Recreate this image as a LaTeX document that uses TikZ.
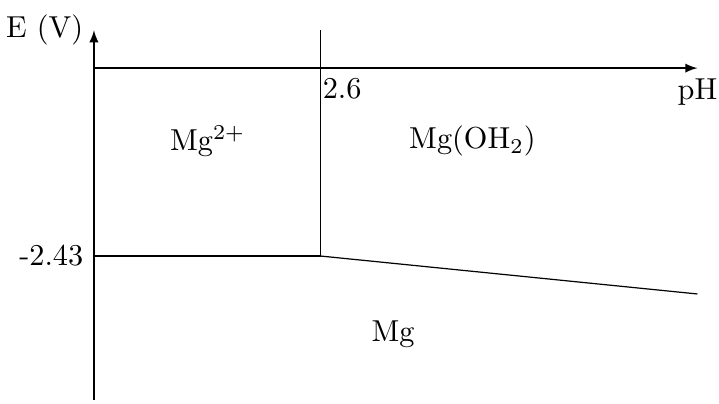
\documentclass[tikz,border=0pt]{standalone}
\usepackage{amsmath,amssymb}
\usepackage{tikz}

\begin{document}
\begin{tikzpicture}[
      axis/.style={-latex}
    ]
    \useasboundingbox (-1.09,0.79) rectangle (7.25,-3.89);
    \coordinate (O) at (0,0);
    \coordinate (ytop) at (0,0.44);
    \coordinate (ybot) at (0,-3.85);
    \coordinate (xend) at (7,0);
    \coordinate (vtop) at (2.63,0.44);
    \coordinate (corner) at (2.63,-2.18);
    \coordinate (left) at (0,-2.18);
    \coordinate (slope) at (7,-2.62);
    \draw[axis] (ybot) -- (ytop) node (E) [left] {E (V)};
    \draw[axis] (O) -- (xend) node (pH) [below] {pH};
    \draw (vtop) -- (corner);
    \draw (left) node (lv) [left] {-2.43} -- (corner);
    \draw (corner) -- (slope);
    \node (pv) [anchor=north west,inner xsep=0.5pt] at (2.63,0) {2.6};
    \node (ion) at (1.32,-0.85) {Mg$^{2+}$};
    \node (hyd) at (4.39,-0.85) {Mg(OH$_2$)};
    \node (metal) at (3.47,-3.09) {Mg};
  \end{tikzpicture}
\end{document}
